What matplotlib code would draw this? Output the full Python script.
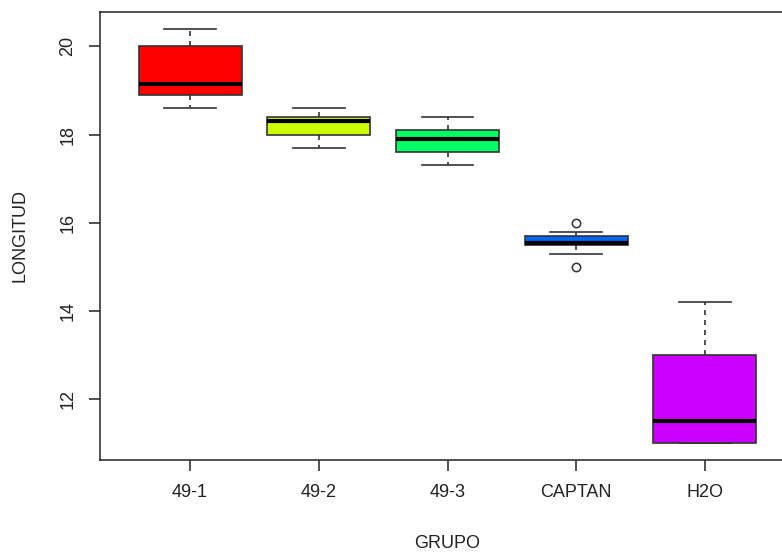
import matplotlib
matplotlib.use("Agg")
import matplotlib.pyplot as plt

# data (R style, rainbow(5) fills)
grupos = ["49-1", "49-2", "49-3", "CAPTAN", "H2O"]
bigote_inf = [18.6, 17.7, 17.3, 15.3, 11.0]
q1 = [18.9, 18.0, 17.6, 15.5, 11.0]
medianas = [19.15, 18.3, 17.9, 15.55, 11.5]
q3 = [20.0, 18.4, 18.1, 15.7, 13.0]
bigote_sup = [20.4, 18.6, 18.4, 15.8, 14.2]
atipicos = [[], [], [], [15.0, 16.0], []]
colores = ["#FF0000", "#CCFF00", "#00FF66", "#0066FF", "#CC00FF"]

plt.rcParams["font.family"] = ["Liberation Sans", "DejaVu Sans"]
plt.rcParams["font.size"] = 13

fig = plt.figure(figsize=(7.82, 5.52), dpi=100)
ax = fig.add_axes([100 / 782, 92 / 552, 695 / 782, 448 / 552])

stats = []
for i in range(len(grupos)):
    stats.append(dict(label=grupos[i], whislo=bigote_inf[i], q1=q1[i],
                      med=medianas[i], q3=q3[i], whishi=bigote_sup[i],
                      fliers=atipicos[i]))

linea = "#333333"
bp = ax.bxp(stats, widths=0.8, capwidths=0.4, patch_artist=True,
            boxprops=dict(edgecolor=linea, linewidth=1.2),
            medianprops=dict(color="black", linewidth=3, solid_capstyle="butt"),
            whiskerprops=dict(color=linea, linewidth=1.2, linestyle=(0, (3, 3))),
            capprops=dict(color=linea, linewidth=1.2),
            flierprops=dict(marker="o", markerfacecolor="none",
                            markeredgecolor=linea, markersize=6,
                            markeredgewidth=1.1))
for caja, c in zip(bp["boxes"], colores):
    caja.set_facecolor(c)

# R extends the range by 4% on each side
lo = min(bigote_inf + [v for f in atipicos for v in f])
hi = max(bigote_sup + [v for f in atipicos for v in f])
r = hi - lo
ax.set_ylim(lo - 0.04 * r, hi + 0.04 * r)
ax.set_xlim(0.3, len(grupos) + 0.7)

ax.set_yticks([12, 14, 16, 18, 20])
for lbl in ax.get_yticklabels():
    lbl.set_rotation(90)
    lbl.set_verticalalignment("center")

for s in ax.spines.values():
    s.set_color(linea)
    s.set_linewidth(1.2)

ax.tick_params(axis="both", length=8, width=1.2, color=linea, pad=9,
               labelcolor="#222222")

ax.set_xlabel("GRUPO", color="#222222", labelpad=25)
ax.set_ylabel("LONGITUD", color="#222222", labelpad=22)

plt.savefig("out.png", dpi=100)
